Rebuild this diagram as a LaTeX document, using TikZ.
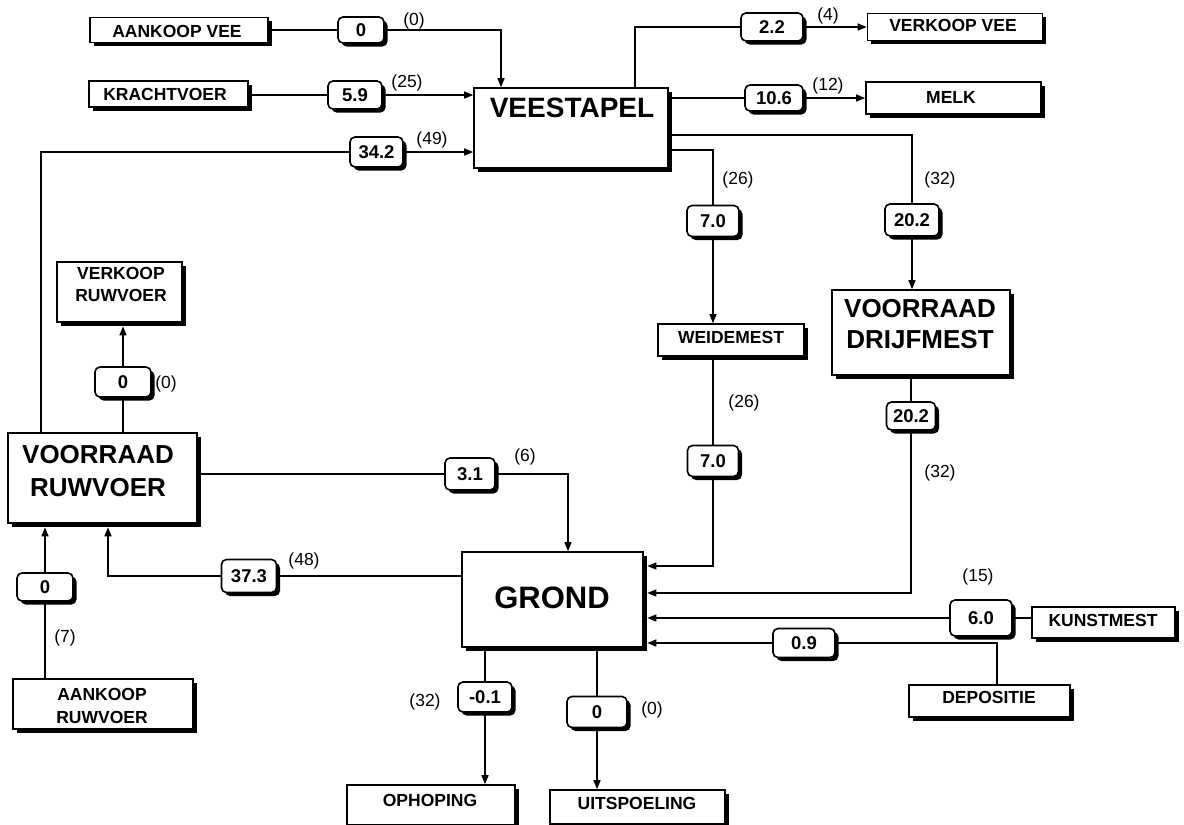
\documentclass[tikz,border=0pt]{standalone}
\usepackage{fontspec}
\setmainfont{Liberation Sans}
\usetikzlibrary{arrows.meta,shadows,calc}
\tikzset{
  box/.style={draw, line width=1.6pt, fill=white, inner sep=0pt,
    drop shadow={shadow xshift=3.5pt, shadow yshift=-3.5pt, fill=black, opacity=1}},
  val/.style={box, rounded corners=5pt, font=\fontsize{18.5}{20}\selectfont\bfseries},
  par/.style={font=\fontsize{17.5}{19}\selectfont, inner sep=0pt},
  smalltxt/.style={font=\fontsize{17.5}{20}\selectfont\bfseries, inner sep=0pt, anchor=base},
  bigtxt/.style={font=\fontsize{26}{30}\selectfont\bfseries, inner sep=0pt, anchor=base},
  ln/.style={line width=1.4pt},
  arr/.style={ln, -{Triangle[length=9pt,width=7pt]}},
}
\begin{document}
\begin{tikzpicture}[x=1pt,y=-1pt]
\useasboundingbox[fill=white] (0,0) rectangle (1184,825);

% ---------- boxes ----------
\node[box, minimum width=178pt, minimum height=25pt] (aankoopvee) at (179,30) {};
\node[box, minimum width=159pt, minimum height=26pt] (krachtvoer) at (168.5,94) {};
\node[box, minimum width=194pt, minimum height=80pt] (veestapel) at (571,128) {};
\node[box, minimum width=175pt, minimum height=27pt] (verkoopvee) at (955,27) {};
\node[box, minimum width=175pt, minimum height=32pt] (melk) at (953.5,98) {};
\node[box, minimum width=146pt, minimum height=32pt] (weidemest) at (731,340) {};
\node[box, minimum width=178pt, minimum height=85pt] (drijfmest) at (921,332.5) {};
\node[box, minimum width=125pt, minimum height=60pt] (verkoopruwvoer) at (119.5,292) {};
\node[box, minimum width=189pt, minimum height=90pt] (voorraadruwvoer) at (102.5,478) {};
\node[box, minimum width=180pt, minimum height=50pt] (aankoopruwvoer) at (103,704) {};
\node[box, minimum width=181pt, minimum height=95pt] (grond) at (552.5,599.5) {};
\node[box, minimum width=143pt, minimum height=31pt] (kunstmest) at (1103.5,622.5) {};
\node[box, minimum width=161pt, minimum height=32pt] (depositie) at (989.5,701) {};
\node[box, minimum width=168pt, minimum height=40pt] (ophoping) at (431,805) {};
\node[box, minimum width=175pt, minimum height=34pt] (uitspoeling) at (637.5,807) {};

% ---------- box texts ----------
\node[smalltxt] (t-aankoopvee) at (177,37) {AANKOOP VEE};
\node[smalltxt] (t-krachtvoer) at (165,100) {KRACHTVOER};
\node[bigtxt, font=\fontsize{28}{30}\selectfont\bfseries] (t-veestapel) at (572,117) {VEESTAPEL};
\node[smalltxt] (t-verkoopvee) at (953,31) {VERKOOP VEE};
\node[smalltxt] (t-melk) at (951,103) {MELK};
\node[smalltxt] (t-weidemest) at (731,343) {WEIDEMEST};
\node[bigtxt] (t-drijf1) at (920,317) {VOORRAAD};
\node[bigtxt] (t-drijf2) at (920,348) {DRIJFMEST};
\node[smalltxt] (t-vr1) at (121,279) {VERKOOP};
\node[smalltxt] (t-vr2) at (121,301) {RUWVOER};
\node[bigtxt] (t-rv1) at (98,463) {VOORRAAD};
\node[bigtxt] (t-rv2) at (98,496) {RUWVOER};
\node[smalltxt] (t-ar1) at (102,700) {AANKOOP};
\node[smalltxt] (t-ar2) at (102,723) {RUWVOER};
\node[bigtxt, font=\fontsize{31}{33}\selectfont\bfseries] (t-grond) at (552,608) {GROND};
\node[smalltxt] (t-kunstmest) at (1103,626) {KUNSTMEST};
\node[smalltxt] (t-depositie) at (989,703) {DEPOSITIE};
\node[smalltxt] (t-ophoping) at (430,806) {OPHOPING};
\node[smalltxt] (t-uitspoeling) at (637,809) {UITSPOELING};

% ---------- value boxes ----------
\node[val, minimum width=46pt, minimum height=26pt] (v1) at (361,30) {0};
\node[val, minimum width=54pt, minimum height=28pt] (v2) at (355,95) {5.9};
\node[val, minimum width=53pt, minimum height=30pt] (v3) at (376.5,152) {34.2};
\node[val, minimum width=62pt, minimum height=28pt] (v4) at (772,27) {2.2};
\node[val, minimum width=58pt, minimum height=26pt] (v5) at (774,98) {10.6};
\node[val, minimum width=52pt, minimum height=31pt] (v6) at (713,221) {7.0};
\node[val, minimum width=54pt, minimum height=32pt] (v7) at (912,220) {20.2};
\node[val, minimum width=56pt, minimum height=30pt] (v8) at (123,382) {0};
\node[val, minimum width=50pt, minimum height=32pt] (v9) at (470,474) {3.1};
\node[val, minimum width=55pt, minimum height=33pt] (v10) at (249,576) {37.3};
\node[val, minimum width=51pt, minimum height=31pt] (v11) at (713,461) {7.0};
\node[val, minimum width=49pt, minimum height=28pt] (v12) at (911,416) {20.2};
\node[val, minimum width=62pt, minimum height=36pt] (v13) at (981,618) {6.0};
\node[val, minimum width=62pt, minimum height=29pt] (v14) at (804,643) {0.9};
\node[val, minimum width=56pt, minimum height=28pt] (v15) at (45,587) {0};
\node[val, minimum width=54pt, minimum height=30pt] (v16) at (485,697) {-0.1};
\node[val, minimum width=60pt, minimum height=31pt] (v17) at (597,712) {0};

% ---------- percentages ----------
\node[par] (p1) at (414,21) {(0)};
\node[par] (p2) at (407,83) {(25)};
\node[par] (p3) at (432,140) {(49)};
\node[par] (p4) at (828,16) {(4)};
\node[par] (p5) at (828,86) {(12)};
\node[par] (p6) at (738,180) {(26)};
\node[par] (p7) at (940,180) {(32)};
\node[par] (p8) at (166,384) {(0)};
\node[par] (p9) at (525,457) {(6)};
\node[par] (p10) at (304,561) {(48)};
\node[par] (p11) at (744,403) {(26)};
\node[par] (p12) at (940,473) {(32)};
\node[par] (p13) at (978,577) {(15)};
\node[par] (p14) at (65,638) {(7)};
\node[par] (p15) at (425,702) {(32)};
\node[par] (p16) at (652,710) {(0)};

% ---------- helper coordinates ----------
\coordinate (x1) at (501,0);
\coordinate (x3) at (41,0);
\coordinate (x4) at (635,0);
\coordinate (y6) at (0,135);
\coordinate (y7) at (0,150);
\coordinate (x9) at (568,0);
\coordinate (x10) at (108,0);
\coordinate (x11) at (45,0);
\coordinate (y12) at (0,566);
\coordinate (y13) at (0,593);
\coordinate (x15) at (997,0);

% ---------- connectors ----------
\draw[ln] (aankoopvee.east |- v1.west) -- (v1.west);
\draw[arr] (v1.east) -- (v1.east -| x1) -- (x1 |- veestapel.north);

\draw[ln] (krachtvoer.east |- v2.west) -- (v2.west);
\draw[arr] (v2.east) -- (v2.east -| veestapel.west);

\draw[ln] (x3 |- voorraadruwvoer.north) -- (x3 |- v3.west) -- (v3.west);
\draw[arr] (v3.east) -- (v3.east -| veestapel.west);

\draw[ln] (x4 |- veestapel.north) -- (x4 |- v4.west) -- (v4.west);
\draw[arr] (v4.east) -- (v4.east -| verkoopvee.west);

\draw[ln] (veestapel.east |- v5.west) -- (v5.west);
\draw[arr] (v5.east) -- (v5.east -| melk.west);

\draw[ln] (veestapel.east |- y6) -| (v7.north);
\draw[arr] (v7.south) -- (v7.south |- drijfmest.north);

\draw[ln] (veestapel.east |- y7) -| (v6.north);
\draw[arr] (v6.south) -- (v6.south |- weidemest.north);

\draw[ln] (v8.south |- voorraadruwvoer.north) -- (v8.south);
\draw[arr] (v8.north) -- ($(v8.north |- verkoopruwvoer.south)+(0,3.5)$);

\draw[ln] (voorraadruwvoer.east |- v9.west) -- (v9.west);
\draw[arr] (v9.east) -- (v9.east -| x9) -- (x9 |- grond.north);

\draw[ln] (grond.west |- v10.east) -- (v10.east);
\draw[arr] (v10.west) -- (v10.west -| x10) -- ($(x10 |- voorraadruwvoer.south)+(0,3.5)$);

\draw[ln] (x11 |- aankoopruwvoer.north) -- (v15.south);
\draw[arr] (v15.north) -- ($(v15.north |- voorraadruwvoer.south)+(0,3.5)$);

\draw[ln] (v11.north |- weidemest.south) -- (v11.north);
\draw[arr] (v11.south) -- (v11.south |- y12) -- ($(grond.east |- y12)+(3.5,0)$);

\draw[ln] (v12.north |- drijfmest.south) -- (v12.north);
\draw[arr] (v12.south) -- (v12.south |- y13) -- ($(grond.east |- y13)+(3.5,0)$);

\draw[ln] (kunstmest.west |- v13.east) -- (v13.east);
\draw[arr] (v13.west) -- ($(grond.east |- v13.west)+(3.5,0)$);

\draw[ln] (x15 |- depositie.north) -- (x15 |- v14.east) -- (v14.east);
\draw[arr] (v14.west) -- ($(grond.east |- v14.west)+(3.5,0)$);

\draw[ln] (v16.north |- grond.south) -- (v16.north);
\draw[arr] (v16.south) -- (v16.south |- ophoping.north);

\draw[ln] (v17.north |- grond.south) -- (v17.north);
\draw[arr] (v17.south) -- (v17.south |- uitspoeling.north);
\end{tikzpicture}
\end{document}
